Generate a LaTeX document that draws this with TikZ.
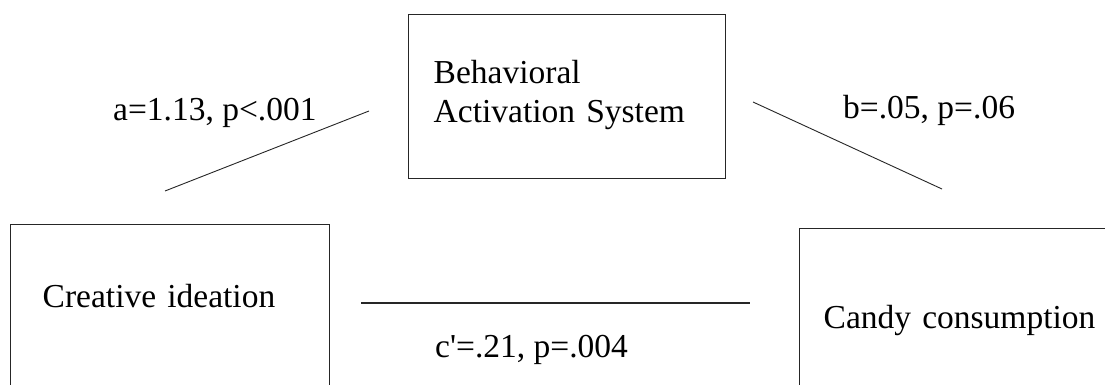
\documentclass[tikz,border=0pt]{standalone}
\usepackage{fontspec}
\setmainfont{Liberation Serif}
\begin{document}
\begin{tikzpicture}[x=1pt,y=-1pt,
  font=\fontsize{33.5}{39}\selectfont,
  box/.style={draw=black!85, line width=1.4pt, rectangle, anchor=north west, inner ysep=0pt, align=left},
  lbl/.style={anchor=base west, inner sep=0pt},
  link/.style={draw=black!85, line width=0.9pt}]
\useasboundingbox (0,0) rectangle (1105,385);
\clip (0,0) rectangle (1105,385);
\fill[white] (0,0) rectangle (1105,385);
% boxes
\node[box, inner xsep=25pt, text width=267pt, text height=69pt, text depth=95pt] (bas) at (408,14) {Behavioral\\Activation System};
\node[box, inner xsep=32pt, text width=255pt, text height=83pt, text depth=200pt] (ci) at (10,224) {Creative ideation};
\node[box, inner xsep=24pt, text width=330pt, text height=100pt, text depth=200pt] (cc) at (799,228) {Candy consumption};
% connector end points
\coordinate (a1) at (165,191);
\coordinate (a2) at (369,111);
\coordinate (b1) at (753,102);
\coordinate (b2) at (942,189);
\coordinate (c1) at (361,303);
\coordinate (c2) at (750,303);
\draw[link] (a1) -- (a2);
\draw[link] (b1) -- (b2);
\draw[link, line width=1.4pt] (c1) -- (c2);
% labels
\node[lbl] (la) at (113,121) {a=1.13, p<.001};
\node[lbl] (lb) at (843,119) {b=.05, p=.06};
\node[lbl] (lc) at (435,357) {c\textquotesingle=.21, p=.004};
\end{tikzpicture}
\end{document}
